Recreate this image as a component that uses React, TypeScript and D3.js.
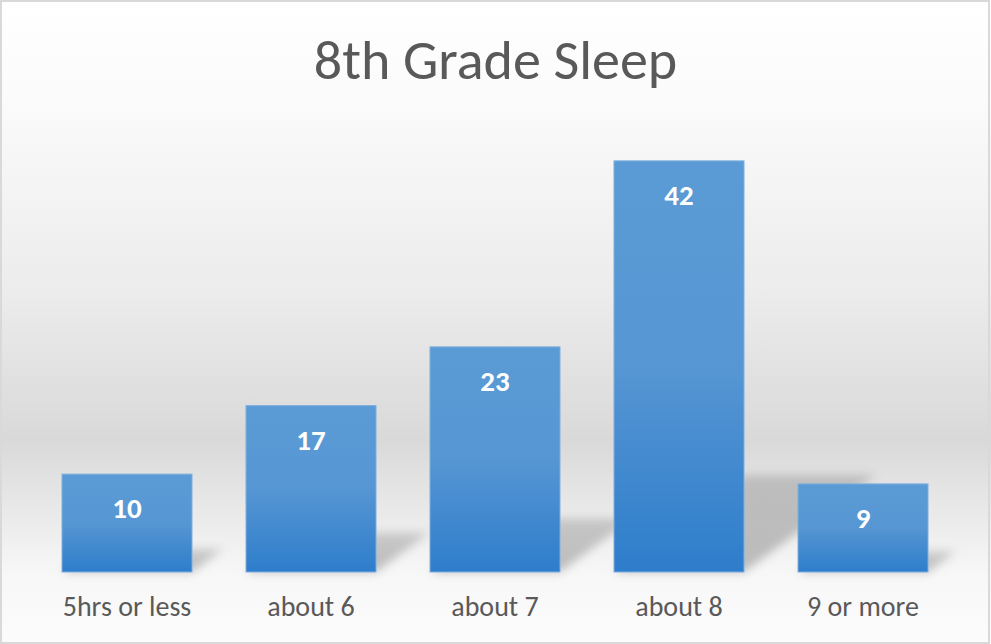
import React from "react";
import * as d3 from "d3";

const categories: string[] = ["5hrs or less", "about 6", "about 7", "about 8", "9 or more"];
const values: number[] = [10, 17, 23, 42, 9];
const title = "8th Grade Sleep";
const yDomain: [number, number] = [0, 45];

const W = 991;
const H = 644;
const FONT = "Carlito, Calibri, Lato, 'Open Sans', sans-serif";

export default function App() {
  const x = d3.scaleBand<string>().domain(categories).range([35, 955]).paddingInner(0.2935).paddingOuter(0.2935 / 2);
  const y = d3.scaleLinear().domain(yDomain).range([572, 131.5]);
  const base = y(0);
  const k = 0.236;
  const slope = 1.36;

  return (
    <svg width={W} height={H} style={{ position: "absolute", left: 0, top: 0, display: "block" }}>
      <defs>
        <linearGradient id="bg" x1="0" y1="0" x2="0" y2="1">
          <stop offset="0" stopColor="#ffffff" />
          <stop offset="0.15" stopColor="#fbfbfb" />
          <stop offset="0.45" stopColor="#ececec" />
          <stop offset="0.683" stopColor="#d9d9d9" />
          <stop offset="0.89" stopColor="#f7f7f7" />
          <stop offset="1" stopColor="#fcfcfc" />
        </linearGradient>
        <linearGradient id="bar" x1="0" y1="0" x2="0" y2="1">
          <stop offset="0" stopColor="#5b9bd5" />
          <stop offset="0.5" stopColor="#5696d3" />
          <stop offset="1" stopColor="#2e7dcb" />
        </linearGradient>
        <linearGradient id="shadowGrad" x1="0" y1="1" x2="0" y2="0">
          <stop offset="0" stopColor="#000" stopOpacity={0.24} />
          <stop offset="1" stopColor="#000" stopOpacity={0.16} />
        </linearGradient>
        <filter id="blur" x="-30%" y="-30%" width="160%" height="160%">
          <feGaussianBlur stdDeviation={5} />
        </filter>
      </defs>
      <rect x={0} y={0} width={W} height={H} fill="url(#bg)" />
      <rect x={1} y={1} width={W - 3} height={H - 2} fill="none" stroke="#d9d9d9" strokeWidth={2} />

      <text x={W / 2} y={79} textAnchor="middle" fontFamily={FONT} fontSize={56} fill="#595959">
        {title}
      </text>

      <g filter="url(#blur)">
        {categories.map((c, i) => {
          const x0 = x(c)!;
          const x1 = x0 + x.bandwidth();
          const h = base - y(values[i]);
          const dy = k * h;
          const dx = dy * slope;
          const pts = [
            [x0, base],
            [x1, base],
            [x1 + dx, base - dy],
            [x0 + dx, base - dy],
          ];
          return <polygon key={c} points={pts.map((p) => p.join(",")).join(" ")} fill="url(#shadowGrad)" />;
        })}
      </g>

      {categories.map((c, i) => (
        <rect
          key={c}
          x={x(c)!}
          y={y(values[i])}
          width={x.bandwidth()}
          height={base - y(values[i])}
          fill="url(#bar)"
          stroke="#7fb0e0"
          strokeWidth={1}
        />
      ))}

      {categories.map((c, i) => (
        <text
          key={c}
          x={x(c)! + x.bandwidth() / 2}
          y={y(values[i]) + 44}
          textAnchor="middle"
          fontFamily={FONT}
          fontWeight="bold"
          fontSize={29}
          fill="#ffffff"
        >
          {values[i]}
        </text>
      ))}

      {categories.map((c) => (
        <text
          key={c}
          x={x(c)! + x.bandwidth() / 2}
          y={616}
          textAnchor="middle"
          fontFamily={FONT}
          fontSize={28}
          fill="#595959"
        >
          {c}
        </text>
      ))}
    </svg>
  );
}
